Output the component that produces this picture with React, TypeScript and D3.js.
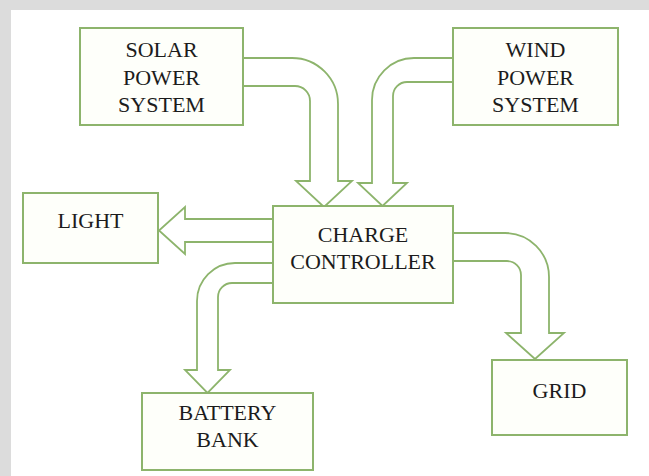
import React from "react";
import * as d3 from "d3";

// diagram content
const nodeIds = ["solar", "wind", "light", "charge", "grid", "battery"];
const nodeLabels = [
  ["SOLAR", "POWER", "SYSTEM"],
  ["WIND", "POWER", "SYSTEM"],
  ["LIGHT"],
  ["CHARGE", "CONTROLLER"],
  ["GRID"],
  ["BATTERY", "BANK"],
];
const links = [
  ["solar", "charge"],
  ["wind", "charge"],
  ["charge", "light"],
  ["charge", "grid"],
  ["charge", "battery"],
];

// layout (px)
const boxes: Record<string, { x: number; y: number; w: number; h: number; lines: number[] }> = {
  solar: { x: 80, y: 28, w: 163, h: 97, lines: [57, 85, 112] },
  wind: { x: 453, y: 28, w: 165, h: 97, lines: [57, 85, 112] },
  light: { x: 23, y: 193, w: 135, h: 70, lines: [228] },
  charge: { x: 273, y: 206, w: 180, h: 97, lines: [242, 269] },
  grid: { x: 492, y: 360, w: 135, h: 75, lines: [398] },
  battery: { x: 142, y: 393, w: 171, h: 77, lines: [420, 447] },
};

// bent arrows: start edge x0, outer/inner horizontal y, outer/inner vertical x
const bent: Record<string, { x0: number; yo: number; yi: number; xo: number; xi: number; hy: number; ty: number; ext: number; R: number; r: number }> = {
  "solar-charge": { x0: 243, yo: 58, yi: 86, xo: 338, xi: 310, hy: 181, ty: 207, ext: 14, R: 46, r: 15 },
  "wind-charge": { x0: 453, yo: 58, yi: 82, xo: 372, xi: 393, hy: 183, ty: 206, ext: 14, R: 42, r: 14 },
  "charge-grid": { x0: 453, yo: 233, yi: 261, xo: 549, xi: 521, hy: 333, ty: 359, ext: 15, R: 44, r: 14 },
  "charge-battery": { x0: 273, yo: 263, yi: 283, xo: 197, xi: 218, hy: 370, ty: 393, ext: 12, R: 38, r: 14 },
};
const straight: Record<string, { x0: number; y1: number; y2: number; hx: number; ext: number; tx: number }> = {
  "charge-light": { x0: 273, y1: 219, y2: 242, hx: 185, ext: 12, tx: 159 },
};

const GREEN = "#8db46c";
const FONT =
  "'Liberation Serif', 'Times New Roman', Times, 'DejaVu Serif', 'Noto Serif', serif";

function bentPath(a: (typeof bent)[string]) {
  const p = d3.path();
  const s = Math.sign(a.xo - a.xi);
  const cx = (a.xo + a.xi) / 2;
  p.moveTo(a.x0, a.yo);
  p.arcTo(a.xo, a.yo, a.xo, a.hy, a.R);
  p.lineTo(a.xo, a.hy);
  p.lineTo(a.xo + s * a.ext, a.hy);
  p.lineTo(cx, a.ty);
  p.lineTo(a.xi - s * a.ext, a.hy);
  p.lineTo(a.xi, a.hy);
  p.arcTo(a.xi, a.yi, a.x0, a.yi, a.r);
  p.lineTo(a.x0, a.yi);
  return p.toString();
}

function straightPath(a: (typeof straight)[string]) {
  const p = d3.path();
  const cy = (a.y1 + a.y2) / 2;
  p.moveTo(a.x0, a.y1);
  p.lineTo(a.hx, a.y1);
  p.lineTo(a.hx, a.y1 - a.ext);
  p.lineTo(a.tx, cy);
  p.lineTo(a.hx, a.y2 + a.ext);
  p.lineTo(a.hx, a.y2);
  p.lineTo(a.x0, a.y2);
  return p.toString();
}

export default function App() {
  return (
    <svg
      width={649}
      height={476}
      style={{ position: "absolute", left: 0, top: 0 }}
    >
      <rect x={0} y={0} width={649} height={476} fill="#dcdcdc" />
      <rect x={11} y={10} width={638} height={466} fill="#ffffff" />

      {links.map(([f, t]) => {
        const key = `${f}-${t}`;
        const d = bent[key] ? bentPath(bent[key]) : straightPath(straight[key]);
        return (
          <path key={key} d={d} fill="#ffffff" stroke={GREEN} strokeWidth={1.8} strokeLinejoin="miter" />
        );
      })}

      {nodeIds.map((id, i) => {
        const b = boxes[id];
        return (
          <g key={id}>
            <rect x={b.x} y={b.y} width={b.w} height={b.h} fill="#fefffa" stroke={GREEN} strokeWidth={2} />
            {nodeLabels[i].map((line, j) => (
              <text
                key={j}
                x={b.x + b.w / 2}
                y={b.lines[j]}
                textAnchor="middle"
                style={{ fontFamily: FONT }}
                fontSize={22}
                fill="#1c1c1c"
              >
                {line}
              </text>
            ))}
          </g>
        );
      })}
    </svg>
  );
}
